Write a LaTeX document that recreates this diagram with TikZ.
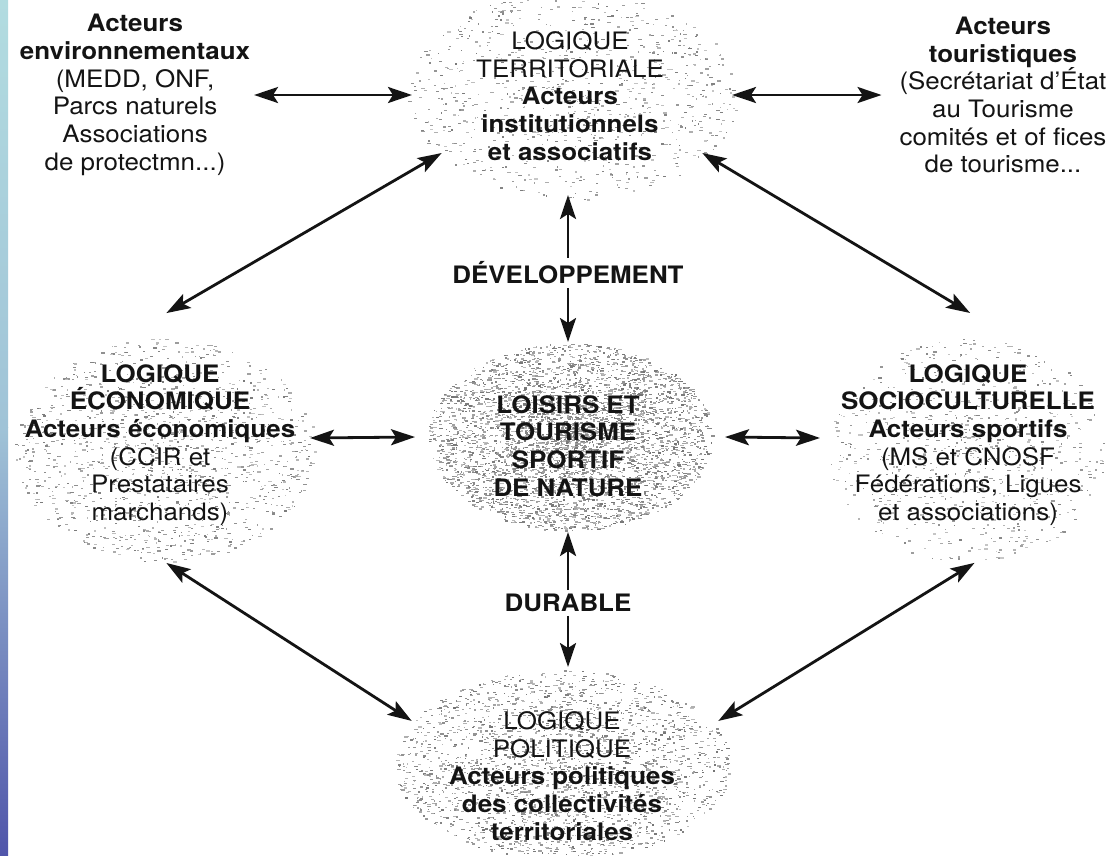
\documentclass[tikz,border=0pt]{standalone}
\usepackage{fontspec}
\setmainfont{TeX Gyre Heros}[FakeStretch=1.08]
\usetikzlibrary{arrows.meta,shapes.geometric}
\definecolor{stripTop}{HTML}{B2DCE0}
\definecolor{stripMid}{HTML}{A0C3D7}
\definecolor{stripBot}{HTML}{5055AA}
\definecolor{ink}{HTML}{141414}
\newcommand\spkblob[6]{%
  \foreach \k in {1,...,#5}{%
    \pgfmathsetmacro\spR{rnd^0.6}%
    \pgfmathsetmacro\spT{360*rnd}%
    \pgfmathsetmacro\spX{#1+#3*\spR*cos(\spT)}%
    \pgfmathsetmacro\spY{#2+#4*\spR*sin(\spT)}%
    \pgfmathsetmacro\spL{1+2.8*rnd}%
    \pgfmathsetmacro\spG{#6+30*rnd}%
    \fill[black!\spG] (\spX,\spY) rectangle ++(\spL,1.3);
  }}
\tikzset{
  txt/.style={align=center, inner sep=0pt, outer sep=0pt, text=ink,
    font=\fontsize{24}{27.7}\selectfont},
  blob/.style={shape=ellipse, draw=none, inner sep=0pt, outer sep=0pt},
  arr/.style={{Stealth[length=24pt,width=16pt,inset=5pt]}-{Stealth[length=24pt,width=16pt,inset=5pt]},
    line width=2.8pt, draw=ink},
  sarr/.style={-{Stealth[length=24pt,width=16pt,inset=5pt]}, line width=2.6pt, draw=ink},
}
\begin{document}
\begin{tikzpicture}[x=1pt,y=-1pt]
\useasboundingbox (0,0) rectangle (1113,855);
\fill[white] (0,0) rectangle (1113,855);
\shade[top color=stripTop, bottom color=stripMid] (0,0) rectangle (8,427.5);
\shade[top color=stripMid, bottom color=stripBot] (0,427.5) rectangle (8,855);
% speckled blobs
\pgfmathsetseed{17}
\begin{scope}
\clip (8,0) rectangle (1113,855);
\spkblob{572}{95}{165}{105}{900}{22}
\spkblob{165}{450}{150}{112}{1400}{22}
\spkblob{570}{437}{142}{94}{4200}{25}
\spkblob{562}{765}{168}{95}{2400}{25}
\spkblob{968}{450}{140}{112}{800}{20}
\end{scope}
% blob nodes
\node[blob, minimum width=320, minimum height=200] (terr) at (572,95) {};
\node[blob, minimum width=296, minimum height=250] (eco) at (162,438) {};
\node[blob, minimum width=296, minimum height=250] (soc) at (968,438) {};
\node[blob, minimum width=310, minimum height=190] (lois) at (570,437) {};
\node[blob, minimum width=340, minimum height=190] (pol) at (565,762) {};
% texts
\node[txt] (envT) at (135,95) {\textbf{Acteurs}\\\textbf{environnementaux}\\(MEDD, ONF,\\Parcs naturels\\Associations\\de protectmn...)};
\node[txt] (terrT) at (570,96) {LOGIQUE\\TERRITORIALE\\\textbf{Acteurs}\\\textbf{institutionnels}\\\textbf{et associatifs}};
\node[txt] (tourT) at (1003,95) {\textbf{Acteurs}\\\textbf{touristiques}\\(Secrétariat d'État\\au Tourisme\\comités et of fices\\de tourisme...};
\node[txt] (devT) at (568,273) {\textbf{DÉVELOPPEMENT}};
\node[txt] (loisT) at (568,446) {\textbf{LOISIRS ET}\\\textbf{TOURISME}\\\textbf{SPORTIF}\\\textbf{DE NATURE}};
\node[txt] (durT) at (568,603) {\textbf{DURABLE}};
\node[txt] (ecoT) at (160,445) {\textbf{LOGIQUE}\\\textbf{ÉCONOMIQUE}\\\textbf{Acteurs économiques}\\(CCIR et\\Prestataires\\marchands)};
\node[txt] (socT) at (968,445) {\textbf{LOGIQUE}\\\textbf{SOCIOCULTURELLE}\\\textbf{Acteurs sportifs}\\(MS et CNOSF\\Fédérations, Ligues\\et associations)};
\node[txt] (polT) at (562,776) {LOGIQUE\\POLITIQUE\\\textbf{Acteurs politiques}\\\textbf{des collectivités}\\\textbf{territoriales}};
% connectors
\draw[arr, shorten <=4pt] (envT.east) -- (terr.west);
\draw[arr, shorten >=18pt] (terr.east) -- (tourT.west);
\draw[arr] (eco.88) -- (terr.204);
\draw[arr] (terr.336) -- (soc.89);
\draw[arr] (eco.272) -- (pol.165);
\draw[arr] (soc.273) -- (pol.15);
\draw[arr] (eco.east) -- (lois.west);
\draw[arr] (lois.east) -- (soc.west);
\draw[sarr, shorten <=4pt] (devT.north) -- (devT.north |- terr.south);
\draw[sarr, shorten <=4pt] (devT.south) -- (devT.south |- lois.north);
\draw[sarr, shorten <=4pt] (durT.north) -- (durT.north |- lois.south);
\draw[sarr, shorten <=4pt] (durT.south) -- (durT.south |- pol.north);
\end{tikzpicture}
\end{document}
